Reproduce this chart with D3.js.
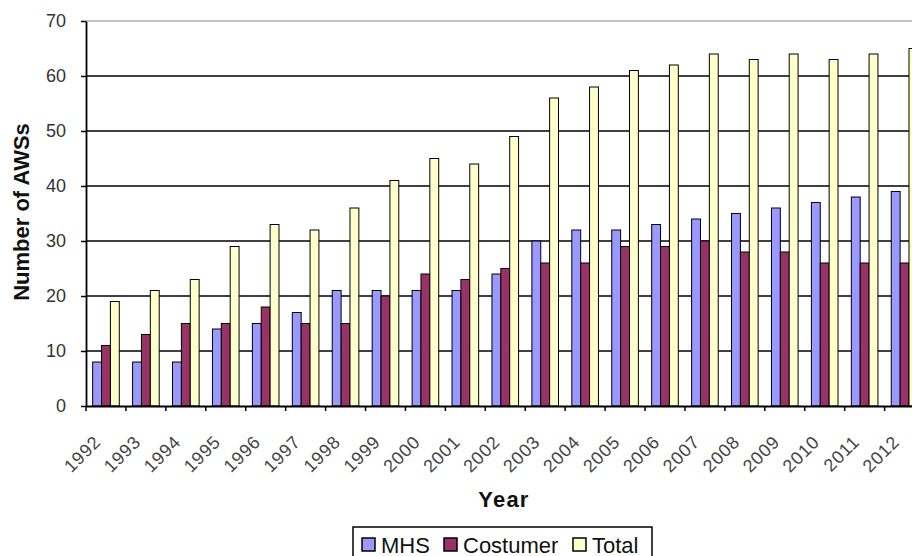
<!DOCTYPE html>
<html>
  <head>
    <meta charset="utf-8">
    <title>AWS chart</title>
    <script type="text/javascript" src="https://d3js.org/d3.v7.min.js"></script>
    <style type="text/css">
      body { margin: 0; background: #fff; }
      svg { display: block; overflow: hidden; font-family: Arial, "Liberation Sans", sans-serif; }
      .axis text { fill: #333; font-size: 18px; }
      .axis path, .axis line { stroke: #000; }
    </style>
  </head>
  <body>
    <script type="text/javascript">
    var years = ["1992","1993","1994","1995","1996","1997","1998","1999","2000","2001","2002",
                 "2003","2004","2005","2006","2007","2008","2009","2010","2011","2012"];
    var mhs      = [8, 8, 8, 14, 15, 17, 21, 21, 21, 21, 24, 30, 32, 32, 33, 34, 35, 36, 37, 38, 39];
    var costumer = [11, 13, 15, 15, 18, 15, 15, 20, 24, 23, 25, 26, 26, 29, 29, 30, 28, 28, 26, 26, 26];
    var total    = [19, 21, 23, 29, 33, 32, 36, 41, 45, 44, 49, 56, 58, 61, 62, 64, 63, 64, 63, 64, 65];
    var seriesNames = ["MHS", "Costumer", "Total"];
    var yTicks = [0, 10, 20, 30, 40, 50, 60, 70];

    var colors = {"MHS": "#9999ff", "Costumer": "#993366", "Total": "#ffffcc"};
    var series = [mhs, costumer, total];

    var widthSVG = 912;
    var heightSVG = 556;
    var plotLeft = 86, plotTop = 21, plotBottom = 406;
    var plotRight = plotLeft + years.length * 39.93;   // plot runs past the right edge (cropped)

    var svg = d3.select("body")
                .append("svg")
                .attr("width", widthSVG)
                .attr("height", heightSVG);

    var x0 = d3.scaleBand().domain(years).range([plotLeft, plotRight]).padding(0);
    var x1 = d3.scaleBand().domain(seriesNames).range([0, x0.bandwidth()])
               .paddingInner(0).paddingOuter(0.75);
    var y = d3.scaleLinear().domain([0, 70]).range([plotBottom, plotTop]);

    // gridlines
    svg.append("g")
       .selectAll("line")
       .data(yTicks.filter(function(d){ return d > 0; }))
       .enter()
       .append("line")
       .attr("x1", plotLeft).attr("x2", plotRight)
       .attr("y1", function(d){ return y(d); })
       .attr("y2", function(d){ return y(d); })
       .attr("stroke", function(d){ return d === 70 ? "#888" : "#000"; })
       .attr("stroke-width", function(d){ return d === 70 ? 1.2 : 1.6; });

    // bars
    var groups = svg.append("g")
       .selectAll("g")
       .data(years)
       .enter()
       .append("g")
       .attr("transform", function(d){ return "translate(" + x0(d) + ",0)"; });

    groups.selectAll("rect")
       .data(function(d, i){
         return seriesNames.map(function(s, j){ return {key: s, value: series[j][i]}; });
       })
       .enter()
       .append("rect")
       .attr("x", function(d){ return x1(d.key); })
       .attr("y", function(d){ return y(d.value); })
       .attr("width", x1.bandwidth())
       .attr("height", function(d){ return plotBottom - y(d.value); })
       .attr("fill", function(d){ return colors[d.key]; })
       .attr("stroke", "#000")
       .attr("stroke-width", 1);

    // y axis
    var yAxis = svg.append("g")
       .attr("class", "axis")
       .attr("transform", "translate(" + plotLeft + ",0)")
       .call(d3.axisLeft(y).tickValues(yTicks).tickSize(5).tickSizeOuter(0).tickPadding(15));
    yAxis.select(".domain").attr("stroke-width", 1.8);
    yAxis.selectAll(".tick line").attr("stroke-width", 1.5);

    // x axis - ticks on category boundaries, labels rotated
    var bw = x0.bandwidth();
    var xAxis = svg.append("g")
       .attr("class", "axis")
       .attr("transform", "translate(0," + plotBottom + ")")
       .call(d3.axisBottom(x0).tickSize(5).tickSizeOuter(0));
    xAxis.select(".domain").attr("stroke-width", 1.8);
    xAxis.selectAll(".tick line")
       .attr("transform", "translate(" + (-bw / 2) + ",0)")
       .attr("stroke-width", 1.5);
    xAxis.selectAll(".tick text")
       .attr("x", 0)
       .attr("y", 0)
       .attr("dy", 0)
       .attr("transform", "translate(-4,37) rotate(-45)")
       .style("font-size", "18px")
       .style("letter-spacing", "0.8px")
       .style("fill", "#444")
       .style("text-anchor", "end");

    // axis titles
    svg.append("text")
       .attr("x", 504)
       .attr("y", 507)
       .attr("text-anchor", "middle")
       .style("font-size", "22px")
       .style("letter-spacing", "1.2px")
       .style("font-weight", "bold")
       .style("fill", "#111")
       .text("Year");

    svg.append("text")
       .attr("transform", "translate(29,212) rotate(-90)")
       .attr("text-anchor", "middle")
       .style("font-size", "22px")
       .style("font-weight", "bold")
       .style("fill", "#111")
       .text("Number of AWSs");

    // legend
    var legend = svg.append("g").attr("transform", "translate(353,527)");
    legend.append("rect")
       .attr("x", 0).attr("y", 0)
       .attr("width", 299).attr("height", 40)
       .attr("fill", "#fff")
       .attr("stroke", "#000")
       .attr("stroke-width", 1.5);
    var legendX = [9, 91, 220];
    var items = legend.selectAll("g.item")
       .data(seriesNames)
       .enter()
       .append("g")
       .attr("class", "item")
       .attr("transform", function(d, i){ return "translate(" + legendX[i] + ",0)"; });
    items.append("rect")
       .attr("x", 0).attr("y", 11)
       .attr("width", 13).attr("height", 13)
       .attr("fill", function(d){ return colors[d]; })
       .attr("stroke", "#000")
       .attr("stroke-width", 1.5);
    items.append("text")
       .attr("x", 19)
       .attr("y", 26)
       .style("font-size", "22px")
       .style("fill", "#111")
       .text(function(d){ return d; });
    </script>
  </body>
</html>
